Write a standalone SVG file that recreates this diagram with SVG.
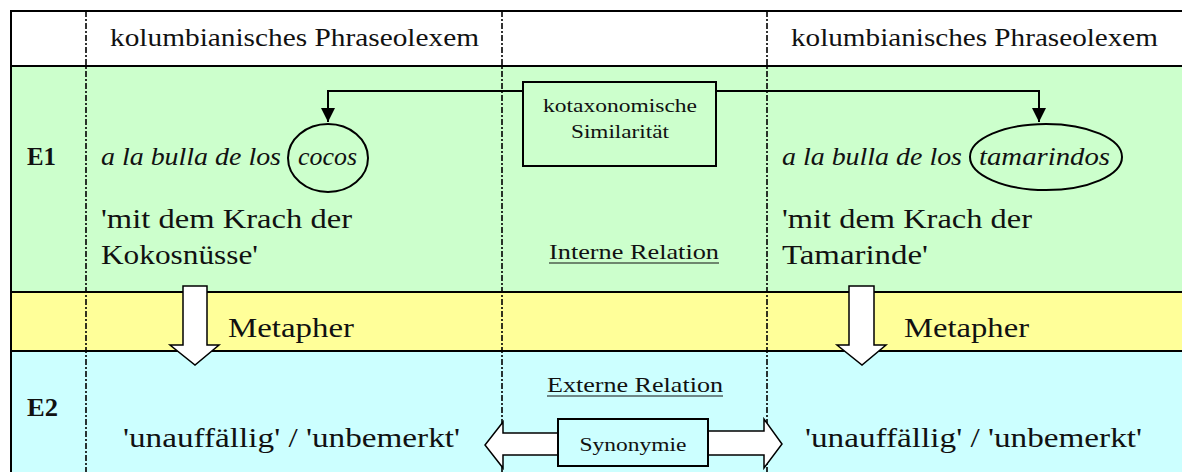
<svg xmlns="http://www.w3.org/2000/svg" width="1182" height="472" viewBox="0 0 1182 472">
  <style>
    text { font-family: "Liberation Serif", "Times New Roman", serif; fill: #111; }
    .hdr { font-size: 25px; }
    .lbl { font-size: 25px; font-weight: bold; }
    .it { font-size: 26px; font-style: italic; }
    .big { font-size: 27px; }
    .mid { font-size: 21px; }
    .sm { font-size: 18px; }
    .rule { stroke: #000; stroke-width: 2; }
    .dash { stroke: #000; stroke-width: 1.6; stroke-dasharray: 6 2 2 2; }
    .conn { fill: none; stroke: #000; stroke-width: 2; }
    .block { fill: #fff; stroke: #000; stroke-width: 1.5; stroke-linejoin: miter; }
    .ring { fill: none; stroke: #000; stroke-width: 2; }
  </style>
  <defs>
    <marker id="head" viewBox="0 0 14 14" refX="14" refY="7" markerWidth="14" markerHeight="14" markerUnits="userSpaceOnUse" orient="auto">
      <path d="M0,0 L14,7 L0,14 z" fill="#000"/>
    </marker>
  </defs>

  <!-- row bands -->
  <g id="bands">
    <rect x="0" y="0" width="1182" height="472" fill="#fff"/>
    <rect x="11" y="66" width="1171" height="226" fill="#ccffcc"/>
    <rect x="11" y="292" width="1171" height="59" fill="#ffff99"/>
    <rect x="11" y="351" width="1171" height="121" fill="#ccffff"/>
  </g>

  <!-- column separators -->
  <g id="columns">
    <line class="dash" x1="86" y1="11" x2="86" y2="472"/>
    <line class="dash" x1="502" y1="11" x2="502" y2="472"/>
    <line class="dash" x1="767" y1="11" x2="767" y2="472"/>
  </g>

  <!-- table rules -->
  <g id="rules">
    <line class="rule" x1="10" y1="11" x2="1182" y2="11"/>
    <line class="rule" x1="11" y1="10" x2="11" y2="472"/>
    <line class="rule" x1="10" y1="66" x2="1182" y2="66"/>
    <line class="rule" x1="10" y1="292" x2="1182" y2="292"/>
    <line class="rule" x1="10" y1="351" x2="1182" y2="351"/>
  </g>

  <!-- header row -->
  <g id="header-left">
    <text class="hdr" x="110" y="46" textLength="369" lengthAdjust="spacingAndGlyphs">kolumbianisches Phraseolexem</text>
  </g>
  <g id="header-right">
    <text class="hdr" x="791" y="46" textLength="367" lengthAdjust="spacingAndGlyphs">kolumbianisches Phraseolexem</text>
  </g>

  <!-- level labels -->
  <g id="label-e1"><text class="lbl" x="27" y="165" textLength="29" lengthAdjust="spacingAndGlyphs">E1</text></g>
  <g id="label-e2"><text class="lbl" x="27" y="416" textLength="31" lengthAdjust="spacingAndGlyphs">E2</text></g>

  <!-- left phraseolexeme -->
  <g id="lexeme-left">
    <text class="it" x="101" y="165" textLength="180" lengthAdjust="spacingAndGlyphs">a la bulla de los</text>
    <ellipse class="ring" cx="328" cy="158" rx="40" ry="34"/>
    <text class="it" x="298" y="165" textLength="59" lengthAdjust="spacingAndGlyphs">cocos</text>
    <text class="big" x="101" y="228" textLength="251" lengthAdjust="spacingAndGlyphs">'mit dem Krach der</text>
    <text class="big" x="101" y="264" textLength="157" lengthAdjust="spacingAndGlyphs">Kokosnüsse'</text>
  </g>

  <!-- right phraseolexeme -->
  <g id="lexeme-right">
    <text class="it" x="782" y="165" textLength="180" lengthAdjust="spacingAndGlyphs">a la bulla de los</text>
    <ellipse class="ring" cx="1046" cy="157" rx="76" ry="33"/>
    <text class="it" x="979" y="165" textLength="131" lengthAdjust="spacingAndGlyphs">tamarindos</text>
    <text class="big" x="782" y="228" textLength="250" lengthAdjust="spacingAndGlyphs">'mit dem Krach der</text>
    <text class="big" x="782" y="264" textLength="146" lengthAdjust="spacingAndGlyphs">Tamarinde'</text>
  </g>

  <!-- connectors -->
  <g id="connectors">
    <polyline class="conn" points="523,91 328,91 328,122" marker-end="url(#head)"/>
    <polyline class="conn" points="716,91 1039,91 1039,122" marker-end="url(#head)"/>
    <polygon class="block" points="183,286 207,286 207,345 219,345 195,365 170,345 183,345"/>
    <polygon class="block" points="849,286 874,286 874,345 886,345 862,365 837,345 849,345"/>
    <polygon class="block" points="560,433 503,433 503,422 485,445 503,468 503,455 560,455"/>
    <polygon class="block" points="706,431 764,431 764,419 782,444 764,468 764,455 706,455"/>
  </g>

  <!-- co-taxonomic similarity -->
  <g id="similarity">
    <rect x="523" y="82" width="193" height="84" fill="#ccffcc" stroke="#000" stroke-width="2"/>
    <text class="sm" x="620" y="112" text-anchor="middle" textLength="154" lengthAdjust="spacingAndGlyphs">kotaxonomische</text>
    <text class="sm" x="620" y="138" text-anchor="middle" textLength="98" lengthAdjust="spacingAndGlyphs">Similarität</text>
  </g>

  <!-- internal relation -->
  <g id="internal-relation">
    <text class="mid" x="549" y="259" textLength="170" lengthAdjust="spacingAndGlyphs">Interne Relation</text>
    <line x1="549" y1="263" x2="719" y2="263" stroke="#111" stroke-width="1.2"/>
  </g>

  <!-- metaphor band -->
  <g id="metaphor-left"><text class="big" x="228" y="337" textLength="126" lengthAdjust="spacingAndGlyphs">Metapher</text></g>
  <g id="metaphor-right"><text class="big" x="904" y="337" textLength="125" lengthAdjust="spacingAndGlyphs">Metapher</text></g>

  <!-- external relation -->
  <g id="external-relation">
    <text class="mid" x="547" y="392" textLength="176" lengthAdjust="spacingAndGlyphs">Externe Relation</text>
    <line x1="547" y1="396" x2="723" y2="396" stroke="#111" stroke-width="1.2"/>
  </g>

  <!-- synonymy -->
  <g id="synonymy">
    <rect x="558" y="419" width="150" height="47" fill="#ccffff" stroke="#000" stroke-width="2"/>
    <text class="sm" x="633" y="451" text-anchor="middle" textLength="107" lengthAdjust="spacingAndGlyphs">Synonymie</text>
  </g>

  <!-- meanings -->
  <g id="meaning-left"><text class="big" x="123" y="447" textLength="337" lengthAdjust="spacingAndGlyphs">'unauffällig' / 'unbemerkt'</text></g>
  <g id="meaning-right"><text class="big" x="805" y="447" textLength="337" lengthAdjust="spacingAndGlyphs">'unauffällig' / 'unbemerkt'</text></g>
</svg>
